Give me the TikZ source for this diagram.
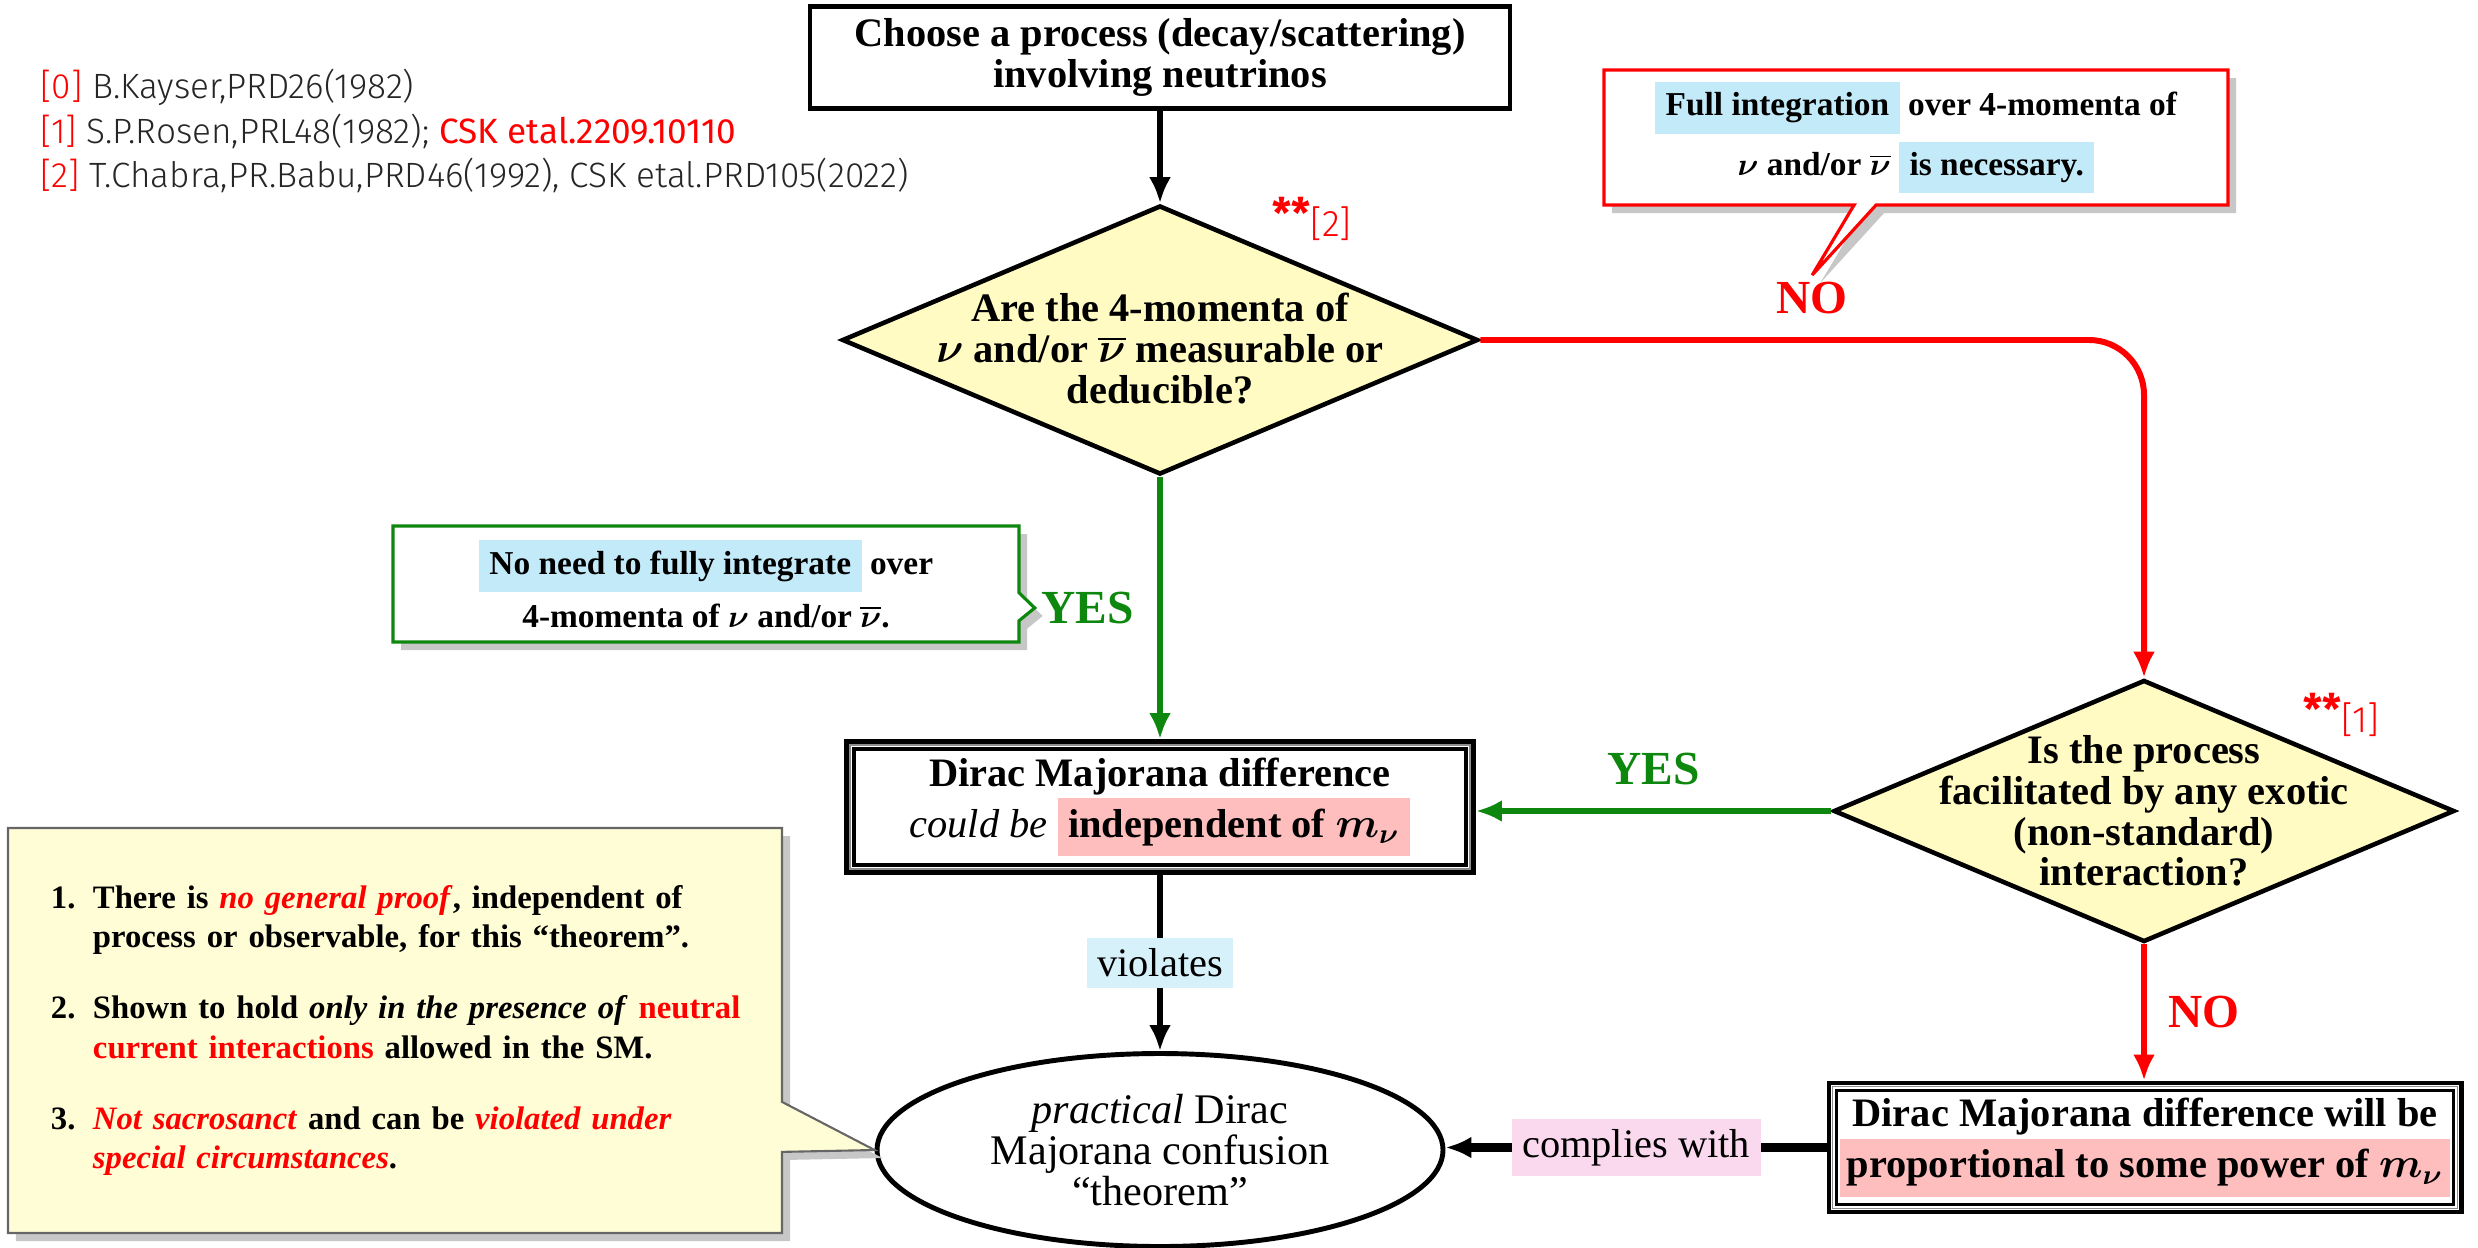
\documentclass[tikz,border=0pt]{standalone}
\usepackage{fontspec}
\setmainfont{Liberation Serif}
\newfontfamily\reffont{Fira Sans Light}
\newfontfamily\refreg{Fira Sans}
\usepackage{enumitem}
\usetikzlibrary{arrows.meta,positioning,shapes.geometric,shapes.callouts,shadows}
\definecolor{hlblue}{HTML}{C3EAF8}
\definecolor{hlsoft}{HTML}{D7F1FA}
\definecolor{hlpink}{HTML}{FFBEBE}
\definecolor{hlmauve}{HTML}{FAD8EE}
\definecolor{qyellow}{HTML}{FFFBC2}
\definecolor{nyellow}{HTML}{FFFDD6}
\definecolor{okgreen}{HTML}{0E870E}
\setlength{\fboxsep}{3pt}
\tikzset{
block/.style={draw,line width=1.4pt,align=center,minimum width=7cm,minimum height=.99cm,font=\fontsize{11.5}{11.7}\selectfont\bfseries},
dblock/.style={draw,line width=1.4pt,align=center,inner sep=0pt,font=\fontsize{11.5}{11.7}\selectfont\bfseries\boldmath},
decision/.style={diamond,aspect=2.36,draw,line width=1.3pt,fill=qyellow,align=center,inner sep=-4mm,font=\fontsize{11.5}{11.6}\selectfont\bfseries\boldmath},
confusion/.style={ellipse,draw,line width=1.4pt,align=center,minimum width=5.66cm,minimum height=1.93cm,inner sep=0pt,font=\fontsize{12}{11.6}\selectfont},
note/.style={rectangle callout,fill=white,align=center,inner sep=0pt,drop shadow={shadow xshift=.08cm,shadow yshift=-.08cm,fill=black!22,opacity=1},font=\fontsize{9.5}{17}\selectfont\bfseries\boldmath},
yes/.style={text=okgreen,inner sep=1pt,font=\fontsize{13.5}{14}\selectfont\bfseries},
no/.style={text=red,inner sep=1pt,font=\fontsize{13.5}{14}\selectfont\bfseries},
starmark/.style={text=red,inner sep=0pt,font=\fontsize{10.5}{12}\selectfont},
refline/.style={anchor=west,inner sep=0pt,text=black!85,font=\reffont\fontsize{10}{11}\selectfont},
tag/.style={inner sep=3pt,font=\fontsize{11.5}{12}\selectfont},
arrow/.style={-{Latex[length=2.6mm,width=2.2mm]},line width=1.7pt},
redarrow/.style={arrow,draw=red},
greenarrow/.style={arrow,draw=okgreen}
}

\begin{document}
\begin{tikzpicture}
\useasboundingbox (0,0) rectangle (24.78,-12.47);

% references
\node[refline] (ref0) at (0.40,-0.87) {\textcolor{red}{[0]} B.Kayser,PRD26(1982)};
\node[refline] (ref1) at (0.40,-1.31) {\textcolor{red}{[1]} S.P.Rosen,PRL48(1982); \textcolor{red}{\refreg CSK etal.2209.10110}};
\node[refline] (ref2) at (0.40,-1.75) {\textcolor{red}{[2]} T.Chabra,PR.Babu,PRD46(1992), CSK etal.PRD105(2022)};

% main flow
\node[block] (start) at (11.60,-0.575) {Choose a process (decay/scattering)\\involving neutrinos};
\node[decision,minimum width=6.36cm,minimum height=2.69cm] (q1) at (11.60,-3.40)
  {\rule{0pt}{13pt}Are the 4-momenta of\\$\nu$ and/or $\overline{\nu}$ measurable or\\deducible?};
\node[starmark] (mark2) at (13.12,-2.19) {{\refreg\bfseries\fontsize{12}{12}\selectfont\raisebox{.35ex}{**}}{\reffont[2]}};
\node[dblock,minimum width=6.27cm,minimum height=1.31cm] (dm1) at (11.60,-8.07)
  {Dirac Majorana difference\\\textmd{\textit{could be}} \colorbox{hlpink}{independent of $m_\nu$}};
\node[decision,minimum width=6.21cm,minimum height=2.62cm] (q2) at (21.44,-8.11)
  {Is the process\\facilitated by any exotic\\(non-standard)\\interaction?};
\node[starmark] (mark1) at (23.41,-7.15) {{\refreg\bfseries\fontsize{12}{12}\selectfont\raisebox{.35ex}{**}}{\reffont[1]}};
\node[dblock,minimum width=6.32cm,minimum height=1.29cm] (dm2) at (21.45,-11.475)
  {Dirac Majorana difference will be\\\colorbox{hlpink}{\makebox[5.88cm]{proportional to some power of $m_\nu$}}};
\node[confusion] (th) at (11.60,-11.50) {\textit{practical} Dirac\\Majorana confusion\\“theorem”};

\foreach \b in {dm1,dm2}{
  \draw[black!45,line width=.4pt] ([shift={(.06,.06)}]\b.south west) rectangle ([shift={(-.06,-.06)}]\b.north east);
  \draw[line width=.9pt] ([shift={(.1,.1)}]\b.south west) rectangle ([shift={(-.1,-.1)}]\b.north east);
}

% connectors
\draw[arrow] (start) -- (q1);
\draw[redarrow,rounded corners=.55cm] (q1.east) -| node[no,above=.2cm,pos=.25] (no1) {NO} (q2.north);
\draw[greenarrow] (q1.south) -- node[yes,left=.2cm,pos=.5] (yes1) {YES} (q1.south |- dm1.north);
\draw[greenarrow] (q2.west) -- node[yes,above=.2cm,pos=.5] (yes2) {YES} (q2.west -| dm1.east);
\draw[redarrow] (q2.south) -- node[no,right=.18cm,pos=.5] (no2) {NO} (q2.south |- dm2.north);
\draw[arrow] (dm1.south) -- node[tag,fill=hlsoft] (viol) {violates} (th.north);
\draw[arrow,line width=2.3pt] (dm2.west) -- node[tag,fill=hlmauve] (comp) {complies with} (dm2.west -| th.east);

% callouts
\node[note,draw=red,line width=.9pt,minimum width=6.24cm,minimum height=1.35cm,
  callout absolute pointer={(no1.north)},callout pointer width=.22cm] (full) at (19.16,-1.375)
  {\colorbox{hlblue}{Full integration} over 4-momenta of\\$\nu$ and/or $\overline{\nu}$ \colorbox{hlblue}{is necessary.}};
\node[note,draw=okgreen,line width=.9pt,minimum width=6.26cm,minimum height=1.16cm,
  callout absolute pointer={(yes1.west)},callout pointer width=.28cm,font=\fontsize{9.5}{15}\selectfont\bfseries\boldmath] (noneed) at (7.06,-5.84)
  {\colorbox{hlblue}{No need to fully integrate} over\\4-momenta of $\nu$ and/or $\overline{\nu}$.};
\node[note,draw=black!60,fill=nyellow,line width=.6pt,minimum width=7.74cm,minimum height=4.05cm,
  inner xsep=.4cm,text width=6.94cm,align=left,font=\fontsize{9.3}{11.2}\selectfont\bfseries,
  callout absolute pointer={(th.west)},callout pointer width=.5cm] (caveat) at (3.95,-10.305)
  {\begin{minipage}{6.94cm}
   \begin{enumerate}[leftmargin=.45cm,itemsep=9pt,parsep=0pt,topsep=0pt,label=\arabic*.]
   \item \mbox{There is \textcolor{red}{\textit{no general proof}}, independent of}\\\mbox{process or observable, for this “theorem”.}
   \item \mbox{Shown to hold \textit{only in the presence of} \textcolor{red}{neutral}}\\\mbox{\textcolor{red}{current interactions} allowed in the SM.}
   \item \mbox{\textcolor{red}{\textit{Not sacrosanct}} and can be \textcolor{red}{\textit{violated under}}}\\\mbox{\textcolor{red}{\textit{special circumstances}}.}
   \end{enumerate}
   \end{minipage}};
\end{tikzpicture}
\end{document}
